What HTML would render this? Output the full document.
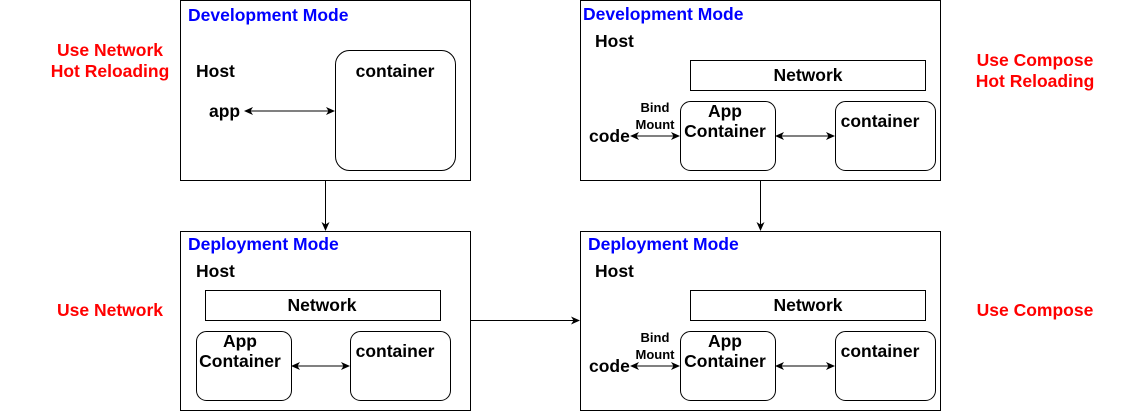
<!DOCTYPE html>
<html><head><meta charset="utf-8"><style>
html,body{margin:0;padding:0;background:#fff;}
svg{display:block;}
text{font-family:"Liberation Sans",Arial,sans-serif;font-weight:bold;}
</style></head><body>
<svg width="1146" height="411" viewBox="0 0 1146 411" xmlns="http://www.w3.org/2000/svg">
<defs>
<marker id="a" markerWidth="9" markerHeight="9" refX="8" refY="4.5" orient="auto-start-reverse" markerUnits="userSpaceOnUse">
<path d="M0,0.5 L9,4.5 L0,8.5 L2.5,4.5 Z" fill="#000"/>
</marker>
</defs>
<g fill="none" stroke="#000" stroke-width="1">
<rect x="180.5" y="0.5" width="290" height="180"/>
<rect x="335.5" y="50.5" width="120" height="120" rx="14"/>
<rect x="180.5" y="231.5" width="290" height="179"/>
<rect x="205.5" y="290.5" width="235" height="30"/>
<rect x="196.5" y="331.5" width="95" height="69" rx="10"/>
<rect x="350.5" y="331.5" width="100" height="69" rx="10"/>
<rect x="580.5" y="0.5" width="360" height="180"/>
<rect x="690.5" y="60.5" width="235" height="30"/>
<rect x="680.5" y="101.5" width="95" height="69" rx="10"/>
<rect x="835.5" y="101.5" width="100" height="69" rx="10"/>
<rect x="580.5" y="231.5" width="360" height="179"/>
<rect x="690.5" y="290.5" width="235" height="30"/>
<rect x="680.5" y="331.5" width="95" height="69" rx="10"/>
<rect x="835.5" y="331.5" width="100" height="69" rx="10"/>
</g>
<g stroke="#000" stroke-width="1">
<line x1="245" y1="111" x2="334" y2="111" marker-start="url(#a)" marker-end="url(#a)"/>
<line x1="325.5" y1="181" x2="325.5" y2="230" marker-end="url(#a)"/>
<line x1="292" y1="366" x2="349" y2="366" marker-start="url(#a)" marker-end="url(#a)"/>
<line x1="471" y1="320.5" x2="579" y2="320.5" marker-end="url(#a)"/>
<line x1="631" y1="136" x2="679" y2="136" marker-start="url(#a)" marker-end="url(#a)"/>
<line x1="776" y1="136" x2="834" y2="136" marker-start="url(#a)" marker-end="url(#a)"/>
<line x1="760.5" y1="181" x2="760.5" y2="230" marker-end="url(#a)"/>
<line x1="631" y1="366" x2="679" y2="366" marker-start="url(#a)" marker-end="url(#a)"/>
<line x1="776" y1="366" x2="834" y2="366" marker-start="url(#a)" marker-end="url(#a)"/>
</g>
<g font-size="17.5" fill="#0000ff">
<text x="188" y="21">Development Mode</text>
<text x="188" y="250">Deployment Mode</text>
<text x="583" y="20">Development Mode</text>
<text x="588" y="250">Deployment Mode</text>
</g>
<g font-size="17.5" fill="#000">
<text x="196" y="77">Host</text>
<text x="209" y="117">app</text>
<text x="395" y="77" text-anchor="middle">container</text>
<text x="196" y="277">Host</text>
<text x="322" y="311" text-anchor="middle">Network</text>
<text x="240" y="347" text-anchor="middle">App</text>
<text x="240" y="367" text-anchor="middle">Container</text>
<text x="395" y="357" text-anchor="middle">container</text>
<text x="595" y="47">Host</text>
<text x="808" y="81" text-anchor="middle">Network</text>
<text x="725" y="117" text-anchor="middle">App</text>
<text x="725" y="137" text-anchor="middle">Container</text>
<text x="880" y="127" text-anchor="middle">container</text>
<text x="589" y="142">code</text>
<text x="595" y="277">Host</text>
<text x="808" y="311" text-anchor="middle">Network</text>
<text x="725" y="347" text-anchor="middle">App</text>
<text x="725" y="367" text-anchor="middle">Container</text>
<text x="880" y="357" text-anchor="middle">container</text>
<text x="589" y="372">code</text>
</g>
<g font-size="13" fill="#000" text-anchor="middle">
<text x="655" y="112">Bind</text>
<text x="655" y="129">Mount</text>
<text x="655" y="342">Bind</text>
<text x="655" y="359">Mount</text>
</g>
<g font-size="17.5" fill="#ff0000" text-anchor="middle">
<text x="110" y="56">Use Network</text>
<text x="110" y="77">Hot Reloading</text>
<text x="110" y="316">Use Network</text>
<text x="1035" y="66">Use Compose</text>
<text x="1035" y="87">Hot Reloading</text>
<text x="1035" y="316">Use Compose</text>
</g>
</svg>
</body></html>
